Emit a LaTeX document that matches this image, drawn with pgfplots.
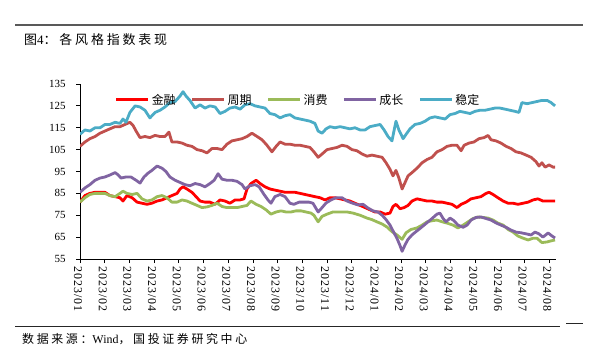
\documentclass[border=0pt]{standalone}
\usepackage{fontspec}
\setmainfont{Liberation Serif}
\newfontfamily\cjk{Noto Sans CJK SC}
\newfontfamily\cjksp[LetterSpace=22]{Noto Sans CJK SC}
\newfontfamily\xlab[LetterSpace=8]{Liberation Serif}
\usepackage{pgfplots}
\pgfplotsset{compat=1.18}
\definecolor{cJR}{HTML}{FF0000}
\definecolor{cZQ}{HTML}{C0504D}
\definecolor{cXF}{HTML}{9BBB59}
\definecolor{cCZ}{HTML}{8064A2}
\definecolor{cWD}{HTML}{4BACC6}

\pgfplotstableread{
x y
0 81
0.20 84
0.40 85
0.61 85.5
0.81 85.5
1.01 85.5
1.21 84
1.42 83.5
1.62 83
1.74 81.5
1.90 84
2.11 83
2.31 81
2.51 80.5
2.71 80
2.91 80.5
3.12 81.5
3.32 82
3.52 83
3.72 84
3.93 85
4.05 87
4.17 88
4.33 87
4.53 85.5
4.70 83.5
4.86 81.5
5.06 81
5.26 81
5.47 80
5.67 82
5.87 81.5
6.07 80.5
6.28 82
6.48 82
6.64 82.5
6.76 87
6.92 89.5
7.13 91
7.29 89.5
7.49 88
7.69 87
7.89 86.5
8.10 86
8.30 85.5
8.50 85.5
8.70 85.5
8.91 85
9.11 84.5
9.31 84
9.51 83.5
9.72 83
9.92 82
10.12 83
10.32 83
10.53 82.5
10.73 82
10.93 81.5
11.13 80.5
11.34 79.5
11.54 78.5
11.74 77.5
11.94 76.5
12.15 76.5
12.35 75.5
12.55 76
12.67 79
12.79 80
12.96 78
13.12 78.5
13.28 79.5
13.44 81.5
13.64 82.5
13.85 82
14.05 81.5
14.25 81.5
14.45 81
14.66 81
14.86 80.5
15.06 80
15.26 78.5
15.43 80
15.63 81
15.83 82.5
16.03 83
16.23 83.5
16.44 85
16.56 85.5
16.72 84.5
16.92 83
17.13 81.5
17.33 80.5
17.53 80.5
17.73 80
17.94 80.5
18.14 81
18.34 82
18.54 82.5
18.74 81.5
18.95 81.5
19.15 81.5
19.23 81.5
}\tJR

\pgfplotstableread{
x y
0 106.5
0.20 108.5
0.40 110
0.61 111
0.81 112.5
1.01 113.5
1.21 114.5
1.42 115.5
1.62 115.5
1.82 116.5
2.02 117.5
2.15 116
2.27 113.5
2.43 110.5
2.63 111
2.83 110.5
3.04 111.5
3.24 111
3.44 111
3.60 113
3.72 108.5
3.93 108.5
4.13 108
4.33 107
4.53 106.5
4.74 105
4.94 104.5
5.14 103.5
5.34 105.5
5.55 105.5
5.75 105
5.95 107.5
6.15 109
6.36 109.5
6.56 110
6.76 111
6.96 112.5
7.17 111
7.37 109.5
7.57 107
7.77 104
7.94 106.5
8.10 108.5
8.30 107.5
8.50 107.5
8.70 107
8.91 107
9.11 106.5
9.31 106
9.47 104
9.64 101.5
9.80 103
10.00 105
10.20 105.5
10.40 106
10.61 107
10.81 106.5
11.01 105
11.21 104.5
11.42 103
11.62 102
11.82 102.5
12.02 102
12.23 101.5
12.39 99
12.55 96
12.67 93
12.79 95.5
12.91 92
13.04 87
13.16 90
13.28 93
13.44 94.5
13.64 96.5
13.85 99
14.05 100.5
14.25 101.5
14.45 104
14.66 105
14.86 106.5
15.06 107
15.26 107
15.43 104.5
15.55 107
15.75 108
15.95 108.5
16.15 110
16.36 110.5
16.52 111.5
16.64 109.5
16.84 109
17.04 108
17.25 106.5
17.45 105.5
17.65 104
17.85 103.5
18.06 102.5
18.26 101.5
18.46 99.5
18.58 97.5
18.70 99
18.83 97
18.99 98
19.15 97
19.23 97
}\tZQ

\pgfplotstableread{
x y
0 81
0.20 83
0.40 84.5
0.61 85
0.81 85
1.01 85
1.21 84
1.42 83.5
1.62 85
1.74 86
1.90 85
2.11 84.5
2.31 85
2.51 82.5
2.71 81.5
2.91 82
3.12 83.5
3.32 84
3.52 83
3.72 81
3.93 81
4.13 82
4.33 81.5
4.53 80.5
4.74 79.5
4.94 78.5
5.14 78.8
5.34 79.5
5.55 80.5
5.75 79
5.95 78.5
6.15 78.5
6.36 78.5
6.56 79
6.76 79.5
6.92 81.5
7.13 80
7.33 79
7.53 77.5
7.73 75.5
7.94 76.5
8.14 77
8.34 76.5
8.54 76.5
8.74 77
8.95 77
9.15 76.5
9.35 76
9.47 75
9.64 72
9.80 74.5
10.00 75.5
10.24 76.5
10.53 76.5
10.81 76.5
11.05 76
11.34 75
11.62 73.7
11.82 73
12.02 72
12.23 71
12.43 69.6
12.63 67.5
12.83 66
13.04 64
13.20 67
13.40 68.5
13.64 69.2
13.85 70.5
14.05 72
14.25 72.5
14.45 72.8
14.66 72
14.86 71.4
15.10 70.5
15.30 69.2
15.51 70.5
15.71 72
15.91 73.5
16.11 74.2
16.32 74
16.52 73.7
16.72 72.8
16.92 71.4
17.13 70.5
17.33 68.5
17.53 67.3
17.73 65.5
17.94 64.5
18.14 63.7
18.34 64.5
18.50 64.5
18.70 62.5
18.91 62.8
19.07 63.3
19.23 63.7
}\tXF

\pgfplotstableread{
x y
0 85.5
0.20 87.5
0.40 89
0.61 91
0.81 92
1.01 92.5
1.21 93.4
1.42 94.5
1.54 93.5
1.66 92
1.86 92.5
2.06 92.5
2.27 91
2.43 89.7
2.59 92.5
2.75 94.2
2.91 95.5
3.12 97.5
3.32 96.5
3.48 95
3.64 92.5
3.85 91
4.05 90
4.25 89
4.45 88.5
4.66 89.5
4.86 89
5.06 88
5.26 89.5
5.43 91
5.59 94
5.75 91.5
5.95 91
6.15 91
6.36 90.5
6.56 89
6.68 87
6.88 88.5
7.09 89
7.25 88
7.45 84.5
7.61 82
7.73 80.5
7.89 83.5
8.10 84.5
8.30 83.5
8.50 80.5
8.66 80
8.87 81
9.07 81
9.27 81
9.43 80.5
9.64 76.5
9.80 78.5
9.96 80.6
10.16 82
10.36 83
10.61 83
10.81 81.5
11.01 80.6
11.26 79.7
11.46 80
11.66 78.3
11.86 77
12.06 76.5
12.23 75
12.39 73
12.55 70.5
12.71 67
12.83 64.5
12.96 61
13.04 58.5
13.16 61.5
13.28 64
13.44 66
13.60 67.5
13.77 69
13.93 70.5
14.09 72
14.25 73.5
14.45 75.5
14.57 76
14.70 73.5
14.82 72
14.98 73.7
15.14 72.5
15.30 70.5
15.51 69.5
15.67 70.5
15.83 72.8
16.03 74
16.23 74.2
16.44 73.5
16.64 72.8
16.84 71.5
17.04 70.5
17.25 69.5
17.45 68.2
17.65 67.3
17.85 67
18.06 66.5
18.26 66
18.42 67.3
18.58 66.5
18.74 65
18.95 66.9
19.11 65.5
19.23 64.6
}\tCZ

\pgfplotstableread{
x y
0 112
0.20 114
0.40 113.5
0.61 115
0.81 115
1.01 116.5
1.21 116.5
1.42 117.5
1.62 117
1.74 119
1.86 117.5
2.02 122
2.23 125
2.43 124.5
2.63 123
2.83 119.5
3.04 122
3.24 123
3.44 124.5
3.64 126.5
3.85 127
4.05 129.5
4.17 131.5
4.29 129.5
4.45 127.5
4.66 124
4.86 125.5
5.06 124
5.26 125
5.47 124.5
5.67 121.5
5.87 122.5
6.07 124
6.28 124.5
6.48 123.5
6.68 125.5
6.88 126
7.09 125
7.29 124.5
7.49 124
7.69 121.5
7.89 121
8.10 119.5
8.30 120.5
8.50 121
8.70 119.5
8.91 119
9.11 118.5
9.31 118
9.51 117
9.64 113.5
9.80 112.5
9.96 114.5
10.12 115.5
10.32 115
10.53 115.5
10.73 115
10.93 114.5
11.13 115
11.34 114
11.54 114
11.74 115.5
11.94 116
12.15 116.5
12.31 114
12.47 111
12.63 109
12.79 118
12.91 114
13.08 110
13.20 112
13.36 114.5
13.56 116.5
13.77 117
13.97 118
14.17 119.5
14.37 120
14.57 119.5
14.78 119
14.98 121
15.18 121.5
15.38 122.5
15.59 122
15.79 121.5
15.99 122.5
16.19 123
16.40 123
16.60 123.5
16.80 124
17.00 124
17.21 123.5
17.41 123
17.61 122.5
17.77 122
17.89 126.5
18.10 126
18.30 126.5
18.50 127
18.70 127.5
18.91 127.5
19.07 126.5
19.23 125
}\tWD

\begin{document}
\begin{tikzpicture}[x=1bp,y=1bp]
\path[use as bounding box] (0,0) rectangle (599,353);
\draw[line width=2bp, color=black!65] (15,328) -- (583,328);
\node[anchor=west, inner sep=0] at (24,313) {\cjksp\fontsize{13}{13}\selectfont 图{\rmfamily 4}：各风格指数表现};
\draw[line width=1bp, black!85] (15,27) -- (560,27);
\draw[line width=1bp, black!85] (566,30) -- (583,30);
\node[anchor=west, inner sep=0] at (22,14) {\cjksp\fontsize{12}{12}\selectfont 数据来源：{\rmfamily Wind}，国投证券研究中心};
\begin{axis}[
  at={(80bp,94bp)}, anchor=south west,
  scale only axis, width=476bp, height=175bp,
  xmin=0, xmax=19.27, ymin=55, ymax=135,
  axis x line*=bottom, axis y line*=left,
  axis line style={-, line width=0.8bp, black},
  xtick={0,...,19},
  xticklabels={2023/01,2023/02,2023/03,2023/04,2023/05,2023/06,2023/07,2023/08,2023/09,2023/10,2023/11,2023/12,2024/01,2024/02,2024/03,2024/04,2024/05,2024/06,2024/07,2024/08},
  ytick={55,65,...,135},
  tick align=outside, major tick length=4bp,
  tick style={black, line width=0.8bp},
  xticklabel style={rotate=-90, anchor=west, font=\xlab\fontsize{12}{12}\selectfont, yshift=-2bp},
  yticklabel style={font=\fontsize{11}{11}\selectfont, xshift=-7bp},
  /pgf/number format/assume math mode=true,
  every axis plot/.append style={line width=2.8bp, line join=round, mark=none},
  legend columns=5,
  legend style={at={(0.458,0.909)}, anchor=center, draw=none, fill=none,
    font=\cjk\fontsize{12}{12}\selectfont,
    /tikz/every even column/.append style={column sep=13bp}},
  legend image code/.code={\draw[#1,line width=3bp] (0bp,0bp) -- (32bp,0bp);},
]
\addplot[cJR] table {\tJR};
\addlegendentry{金融}
\addplot[cZQ] table {\tZQ};
\addlegendentry{周期}
\addplot[cXF] table {\tXF};
\addlegendentry{消费}
\addplot[cCZ] table {\tCZ};
\addlegendentry{成长}
\addplot[cWD] table {\tWD};
\addlegendentry{稳定}
\end{axis}
\end{tikzpicture}
\end{document}
